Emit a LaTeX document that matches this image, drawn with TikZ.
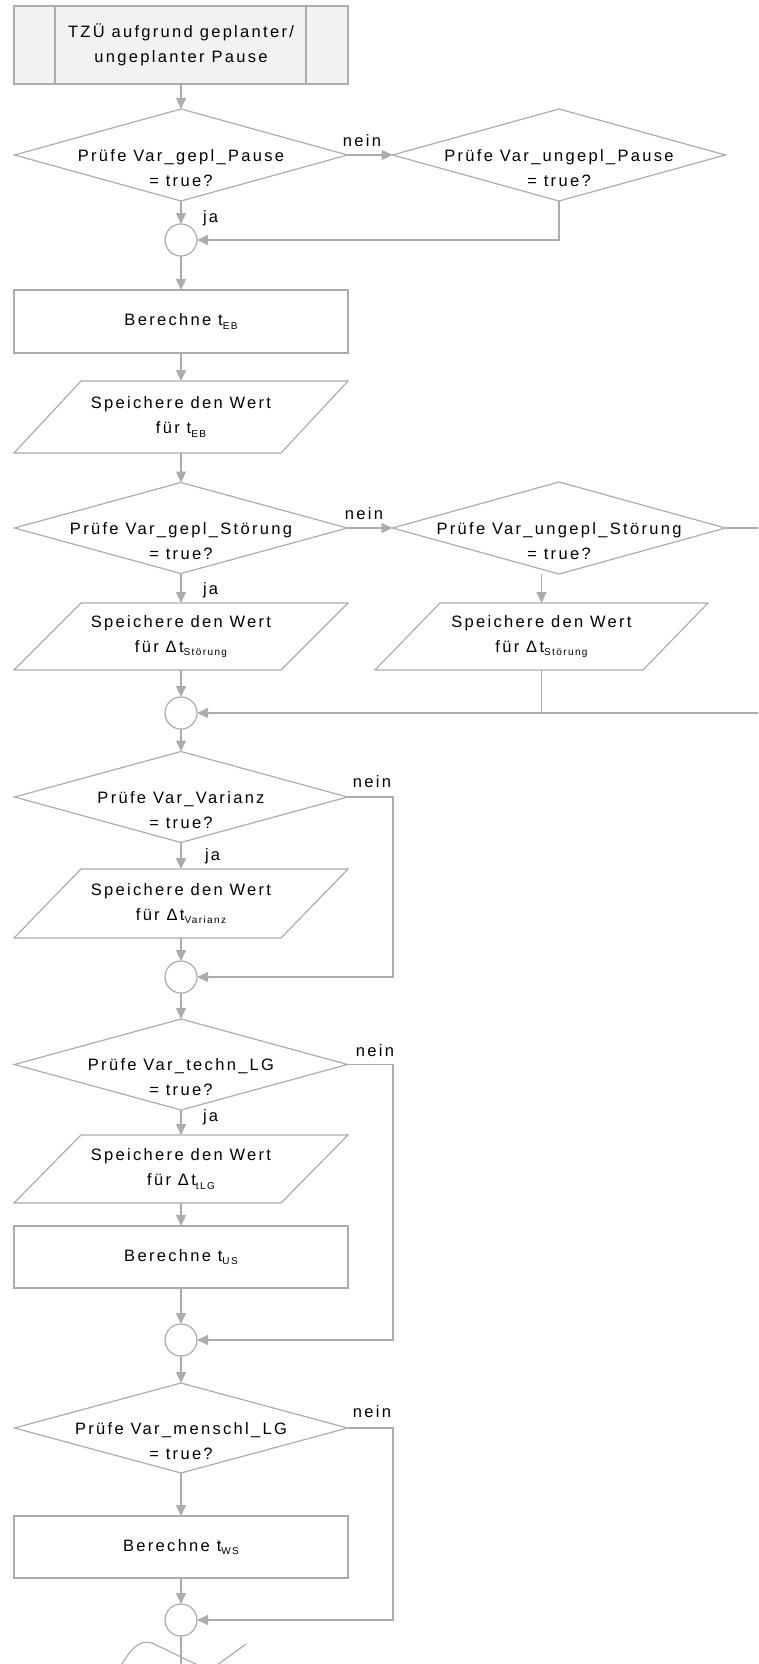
\documentclass[tikz,border=0pt]{standalone}
\usepackage{fontspec}
\setmainfont{Liberation Sans}[LetterSpace=14]
\usetikzlibrary{arrows.meta,shapes.geometric,calc}
\definecolor{ln}{RGB}{172,172,172}
\definecolor{topfill}{RGB}{242,242,242}
\newcommand\mysub[1]{\raisebox{-3.5pt}{\fontsize{10}{10}\selectfont #1}}
\begin{document}
\begin{tikzpicture}[x=1pt,y=-1pt,
 font=\fontsize{16.5}{25}\selectfont,
 every node/.style={inner sep=0pt, outer sep=0pt, text=black},
 shp/.style={draw=ln, line width=1.2pt},
 dec/.style={shp, diamond, minimum width=333pt, minimum height=92pt},
 box/.style={shp, rectangle, minimum width=334pt, minimum height=63pt, align=center},
 para/.style={rectangle, minimum width=334pt, minimum height=70pt, align=center},
 conn/.style={shp, circle, minimum size=32pt},
 wire/.style={draw=ln, line width=1.2pt},
 arr/.style={wire, -{Triangle[length=11pt,width=10pt]}},
 dtext/.style={align=center, yshift=-13pt}
]
\path[use as bounding box] (0,0) rectangle (758,1664);
\clip (0,0) rectangle (758,1664);

% top predefined process
\node[shp, fill=topfill, minimum width=334pt, minimum height=78pt, align=center] (top) at (181,45)
  {TZÜ aufgrund geplanter/\\ungeplanter Pause};
\draw[shp] ($(top.north west)+(41,0)$) -- ($(top.south west)+(41,0)$);
\draw[shp] ($(top.north east)+(-42,0)$) -- ($(top.south east)+(-42,0)$);

% nodes
\node[dec, label={[dtext]center:{Prüfe Var\_gepl\_Pause\\= true?}}] (d1) at (181,155) {};
\node[dec, label={[dtext]center:{Prüfe Var\_ungepl\_Pause\\= true?}}] (d2) at (559,155) {};
\node[conn] (c1) at (181,240) {};
\node[box] (b1) at (181,321.5) {Berechne t\mysub{EB}};
\node[para, minimum height=72pt] (p1) at (181,417) {Speichere den Wert\\für t\mysub{EB}};
\node[dec, minimum height=91pt, label={[dtext]center:{Prüfe Var\_gepl\_Störung\\= true?}}] (d3) at (181,528) {};
\node[dec, label={[dtext]center:{Prüfe Var\_ungepl\_Störung\\= true?}}] (d4) at (559,528) {};
\node[para, minimum height=67pt] (p2) at (181,636.5) {Speichere den Wert\\für Δt\mysub{Störung}};
\node[para, minimum height=67pt, minimum width=333pt] (p3) at (541.5,636.5) {Speichere den Wert\\für Δt\mysub{Störung}};
\node[conn] (c2) at (181,713) {};
\node[dec, minimum height=91pt, label={[dtext]center:{Prüfe Var\_Varianz\\= true?}}] (d5) at (181,797) {};
\node[para, minimum height=69pt] (p4) at (181,903.5) {Speichere den Wert\\für Δt\mysub{Varianz}};
\node[conn] (c3) at (181,977) {};
\node[dec, minimum height=91pt, label={[dtext]center:{Prüfe Var\_techn\_LG\\= true?}}] (d6) at (181,1064.5) {};
\node[para, minimum height=68pt] (p5) at (181,1169) {Speichere den Wert\\für Δt\mysub{tLG}};
\node[box, minimum height=62pt] (b2) at (181,1257) {Berechne t\mysub{US}};
\node[conn] (c4) at (181,1340) {};
\node[dec, minimum height=90pt, label={[dtext]center:{Prüfe Var\_menschl\_LG\\= true?}}] (d7) at (181,1428) {};
\node[box, minimum height=62pt] (b3) at (181,1547) {Berechne t\mysub{WS}};
\node[conn] (c5) at (181,1620) {};

% parallelogram outlines
\foreach \p/\s in {p1/67,p2/67,p3/65,p4/67,p5/67}{
  \draw[shp] ($(\p.north west)+(\s,0)$) -- (\p.north east) -- ($(\p.south east)+(-\s,0)$) -- (\p.south west) -- cycle;
}

% helper coordinates
\coordinate (r2) at (790,528);
\coordinate (r5) at (393,797);
\coordinate (r6) at (393,1064.5);
\coordinate (r7) at (393,1428);
\coordinate (bot) at (181,1672);

% labels
\node (n1) at (362,141) {nein};
\node (n2) at (364,514) {nein};
\node (n3) at (372,782) {nein};
\node (n4) at (375,1051) {nein};
\node (n5) at (372,1412) {nein};
\node[anchor=west] (j1) at (203,218) {ja};
\node[anchor=west] (j2) at (203,590) {ja};
\node[anchor=west] (j3) at (205,856) {ja};
\node[anchor=west] (j4) at (203,1117) {ja};

% connectors
\draw[arr] (top) -- (d1);
\draw[arr] (d1) -- (d2);
\draw[arr] (d1) -- (c1);
\draw[arr] (d2.south) |- (c1.east);
\draw[arr] (c1) -- (b1);
\draw[arr] (b1) -- (p1);
\draw[arr] (p1) -- (d3);
\draw[arr] (d3) -- (d4);
\draw[arr] (d3) -- (p2);
\draw[arr] (p3.north |- d4.south) -- (p3.north);
\draw[arr] (d4.east) -- (r2) |- (c2.east);
\draw[wire] (p3.south) -- (p3.south |- c2.east);
\draw[arr] (p2) -- (c2);
\draw[arr] (c2) -- (d5);
\draw[arr] (d5) -- (p4);
\draw[arr] (d5.east) -- (r5) |- (c3.east);
\draw[arr] (p4) -- (c3);
\draw[arr] (c3) -- (d6);
\draw[arr] (d6) -- (p5);
\draw[arr] (d6.east) -- (r6) |- (c4.east);
\draw[arr] (p5) -- (b2);
\draw[arr] (b2) -- (c4);
\draw[arr] (c4) -- (d7);
\draw[arr] (d7) -- (b3);
\draw[arr] (d7.east) -- (r7) |- (c5.east);
\draw[arr] (b3) -- (c5);
\draw[wire] (c5) -- (bot);

% partially visible shape at the bottom edge
\draw[shp] (117,1672) .. controls (130,1650) and (138,1639) .. (152,1643) -- (208,1670);
\draw[shp] (213,1668) -- (246,1644);
\end{tikzpicture}
\end{document}
